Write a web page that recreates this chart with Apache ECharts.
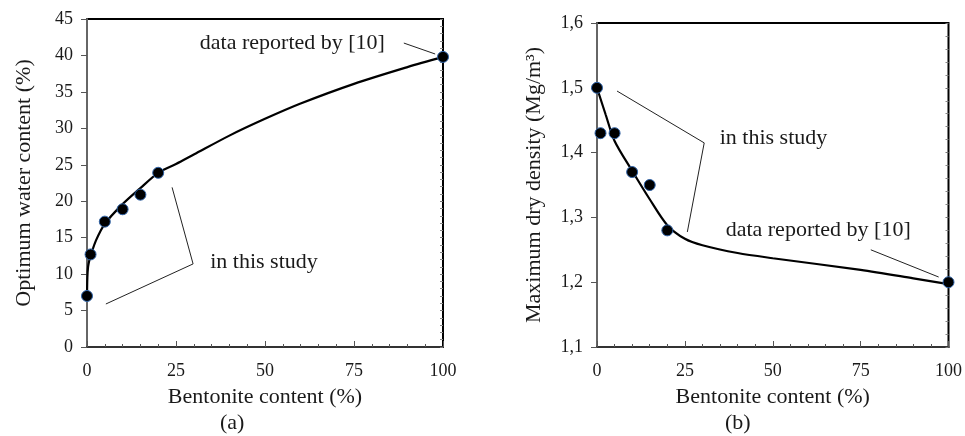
<!DOCTYPE html>
<html>
<head>
<meta charset="utf-8">
<script src="https://cdn.jsdelivr.net/npm/echarts@6/dist/echarts.min.js"></script>
<style>html,body{margin:0;padding:0;background:#fff}#c{width:965px;height:436px}</style>
</head>
<body>
<div id="c"></div>
<script>
// ---- Data ----
const xTicks = [0, 25, 50, 75, 100];
// (a) Optimum water content
const ptsAX = [0, 1, 5, 10, 15, 20, 100];
const ptsAY = [7.0, 12.7, 17.2, 18.9, 20.9, 23.9, 39.8];
const curveAX = [0, 0.1, 0.3, 0.7, 1, 2.5, 5, 10, 15, 20, 25, 30, 40, 50, 60, 75, 90, 100];
const curveAY = [7, 9.5, 11, 12, 12.5, 14.6, 16.9, 19.6, 21.8, 23.9, 25.1, 26.4, 29.0, 31.3, 33.4, 36.1, 38.4, 39.8];
// (b) Maximum dry density
const ptsBX = [0, 1, 5, 10, 15, 20, 100];
const ptsBY = [1.50, 1.43, 1.43, 1.37, 1.35, 1.28, 1.20];
const curveBX = [0, 2.5, 5, 10, 15, 20, 25, 30, 40, 50, 75, 90, 100];
const curveBY = [1.5, 1.458, 1.418, 1.372, 1.328, 1.288, 1.267, 1.257, 1.245, 1.237, 1.219, 1.206, 1.197];
// Annotations (data coordinates)
const leadA1 = [[89.0, 41.7], [97.8, 40.2]];
const leadA2 = [[23.9, 21.9], [29.8, 11.4], [5.3, 5.9]];
const textA = [{pos: [31.7, 41.7], text: 'data reported by [10]'}, {pos: [34.6, 11.7], text: 'in this study'}];
const leadB1 = [[5.7, 1.495], [30.5, 1.415], [25.7, 1.2775]];
const leadB2 = [[77.9, 1.250], [97.2, 1.208]];
const textB = [{pos: [34.9, 1.422], text: 'in this study'}, {pos: [36.6, 1.28], text: 'data reported by [10]'}];

const FONT = 'Liberation Serif';
const TXT = '#1a1a1a';
const zip = (a, b) => a.map((v, i) => [v, b[i]]);

function xAxes(gi) {
  return [{
    type: 'value', gridIndex: gi, min: 0, max: 100, interval: 25,
    name: 'Bentonite content (%)', nameLocation: 'middle', nameGap: 39,
    nameTextStyle: {fontFamily: FONT, fontSize: 22, color: TXT},
    axisLine: {lineStyle: {color: '#333', width: 2}},
    axisTick: {inside: true, length: 6, lineStyle: {color: '#555'}},
    minorTick: {show: true, splitNumber: 5, length: 3, lineStyle: {color: '#555'}},
    axisLabel: {fontFamily: FONT, fontSize: 18, color: TXT, margin: 15},
    splitLine: {show: false}
  }];
}
function yAxes(gi, min, max, interval, name, fmt) {
  return [{
    type: 'value', gridIndex: gi, min, max, interval,
    name, nameLocation: 'middle', nameGap: 52,
    nameTextStyle: {fontFamily: FONT, fontSize: 22, color: TXT},
    axisLine: {lineStyle: {color: '#666', width: 2}},
    axisTick: {inside: false, length: 6, lineStyle: {color: '#555'}},
    axisLabel: {fontFamily: FONT, fontSize: 18, color: TXT, margin: 14, formatter: fmt},
    splitLine: {show: false}
  }, {
    type: 'value', gridIndex: gi, min, max, interval,
    axisLine: {show: false},
    axisTick: {inside: true, length: 3, lineStyle: {color: '#777'}},
    minorTick: {show: true, splitNumber: 5, length: 3, lineStyle: {color: '#888'}},
    axisLabel: {show: false}, splitLine: {show: false}
  }];
}

function lineSeries(xi, yi, data, w, smooth, color) {
  return {type: 'line', xAxisIndex: xi, yAxisIndex: yi, data, showSymbol: false, symbol: 'none',
    smooth: smooth, lineStyle: {color: color || '#000', width: w}, silent: true, z: 3};
}
function pointSeries(xi, yi, data) {
  return {type: 'scatter', xAxisIndex: xi, yAxisIndex: yi, data, symbolSize: 11,
    itemStyle: {color: '#000', borderColor: '#2f63a8', borderWidth: 1, opacity: 1}, z: 5};
}
function textSeries(xi, yi, items) {
  return {type: 'scatter', xAxisIndex: xi, yAxisIndex: yi, symbolSize: 0,
    itemStyle: {opacity: 1},
    data: items.map(d => ({value: d.pos, name: d.text})),
    label: {show: true, position: 'right', distance: 0, formatter: p => p.name,
      fontFamily: FONT, fontSize: 22, color: TXT, opacity: 1}, silent: true, z: 6};
}

const option = {
  animation: false,
  backgroundColor: '#fff',
  grid: [
    {left: 87, top: 19, width: 356, height: 328, show: true, borderColor: '#000', borderWidth: 2},
    {left: 597, top: 23, width: 354, height: 324, show: true, borderColor: '#000', borderWidth: 2}
  ],
  xAxis: [...xAxes(0), ...xAxes(1)],
  yAxis: [
    ...yAxes(0, 0, 45, 5, 'Optimum water content (%)', v => String(v)),
    ...yAxes(1, 1.1, 1.6, 0.1, 'Maximum dry density (Mg/m\u00B3)', v => v.toFixed(1).replace('.', ','))
  ],
  series: [
    lineSeries(0, 0, zip(curveAX, curveAY), 2.2, 0.3),
    pointSeries(0, 0, zip(ptsAX, ptsAY)),
    lineSeries(0, 0, leadA1, 1, false, '#222'),
    lineSeries(0, 0, leadA2, 1, false, '#222'),
    textSeries(0, 0, textA),
    lineSeries(1, 2, zip(curveBX, curveBY), 2.2, 0.3),
    pointSeries(1, 2, zip(ptsBX, ptsBY)),
    lineSeries(1, 2, leadB1, 1, false, '#222'),
    lineSeries(1, 2, leadB2, 1, false, '#222'),
    textSeries(1, 2, textB)
  ],
  graphic: [
    {type: 'text', left: 220, top: 412, style: {text: '(a)', font: '22px "Liberation Serif"', fill: TXT}},
    {type: 'text', left: 725, top: 412, style: {text: '(b)', font: '22px "Liberation Serif"', fill: TXT}}
  ]
};
const chart = echarts.init(document.getElementById('c'), null, {renderer: 'canvas'});
chart.setOption(option);
</script>
</body>
</html>
